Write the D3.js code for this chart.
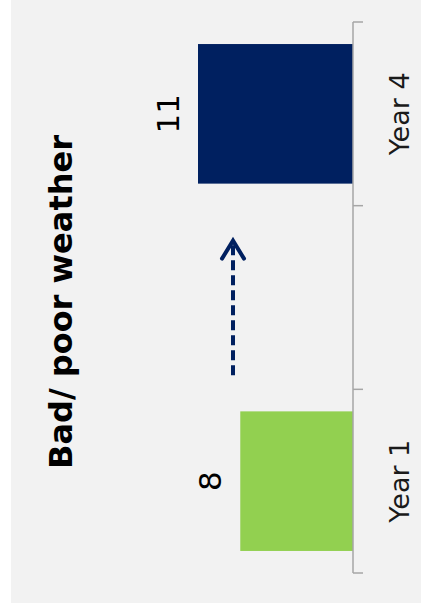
<!DOCTYPE html>
<html>
<head>
<meta charset="utf-8">
<script src="https://cdn.jsdelivr.net/npm/d3@7"></script>
<style>
  html, body { margin: 0; padding: 0; background: #ffffff; }
  svg { display: block; }
  text { font-family: "DejaVu Sans", Verdana, sans-serif; }
</style>
</head>
<body>
<div id="chart"></div>
<script>
var categories = ["Year 1", "", "Year 4"];
var values = [8, null, 11];
var barColors = ["#92d050", null, "#002060"];
var title = "Bad/ poor weather";

var W = 421, H = 608;

var svg = d3.select("#chart").append("svg")
    .attr("width", W)
    .attr("height", H);

// the whole chart is turned a quarter turn to the left
// inner u runs along screen y (upwards), inner v along screen x
var g = svg.append("g")
    .attr("transform", "translate(0," + H + ") rotate(-90)");

g.append("rect")
    .attr("x", 5).attr("y", 11)
    .attr("width", 603).attr("height", 410)
    .attr("fill", "#f2f2f2");

var x = d3.scaleBand()
    .domain(categories)
    .range([35, 586]);

var y = d3.scaleLinear()
    .domain([0, 11])
    .range([353, 198]);

var bw = x.bandwidth() * 0.76;

// bars
g.selectAll(".bar")
    .data(categories.filter(function(d, i) { return values[i] != null; }))
  .enter().append("rect")
    .attr("class", "bar")
    .attr("x", function(d) { return x(d) + (x.bandwidth() - bw) / 2; })
    .attr("y", function(d) { return y(values[categories.indexOf(d)]); })
    .attr("width", bw)
    .attr("height", function(d) { return y(0) - y(values[categories.indexOf(d)]); })
    .attr("fill", function(d) { return barColors[categories.indexOf(d)]; });

// value labels
g.selectAll(".val")
    .data(categories.filter(function(d, i) { return values[i] != null; }))
  .enter().append("text")
    .attr("class", "val")
    .attr("x", function(d) { return x(d) + x.bandwidth() / 2; })
    .attr("y", function(d) { return y(values[categories.indexOf(d)]) - 19; })
    .attr("text-anchor", "middle")
    .attr("font-size", 31)
    .attr("fill", "#000")
    .text(function(d) { return values[categories.indexOf(d)]; });

// category axis: line with ticks on the category boundaries
var axis = g.append("g")
    .attr("transform", "translate(0," + y(0) + ")");

axis.append("line")
    .attr("x1", x.range()[0]).attr("x2", x.range()[1])
    .attr("y1", 0).attr("y2", 0)
    .attr("stroke", "#a6a6a6").attr("stroke-width", 1.5);

var bounds = categories.map(function(d) { return x(d); }).concat([x.range()[1]]);
axis.selectAll(".tk")
    .data(bounds)
  .enter().append("line")
    .attr("class", "tk")
    .attr("x1", function(d) { return d; }).attr("x2", function(d) { return d; })
    .attr("y1", 0).attr("y2", 10)
    .attr("stroke", "#a6a6a6").attr("stroke-width", 1.5);

axis.selectAll(".cat")
    .data(categories)
  .enter().append("text")
    .attr("class", "cat")
    .attr("x", function(d) { return x(d) + x.bandwidth() / 2; })
    .attr("y", 56)
    .attr("text-anchor", "middle")
    .attr("font-size", 27)
    .attr("fill", "#1a1a1a")
    .text(function(d) { return d; });

// title
g.append("text")
    .attr("x", 306)
    .attr("y", 72)
    .attr("text-anchor", "middle")
    .attr("font-size", 32)
    .attr("font-weight", "bold")
    .attr("fill", "#000")
    .text(title);

// dashed arrow from Year 1 towards Year 4
var ax0 = x("") + 14, ax1 = x("") + x.bandwidth() - 35, av = 233;
g.append("line")
    .attr("x1", ax0).attr("x2", ax1 - 2)
    .attr("y1", av).attr("y2", av)
    .attr("stroke", "#002060").attr("stroke-width", 4)
    .attr("stroke-dasharray", "10,5");

g.append("path")
    .attr("d", d3.line()([[ax1 - 18, av - 11], [ax1, av], [ax1 - 18, av + 11]]))
    .attr("fill", "none")
    .attr("stroke", "#002060").attr("stroke-width", 4)
    .attr("stroke-linecap", "round")
    .attr("stroke-linejoin", "miter");
</script>
</body>
</html>
